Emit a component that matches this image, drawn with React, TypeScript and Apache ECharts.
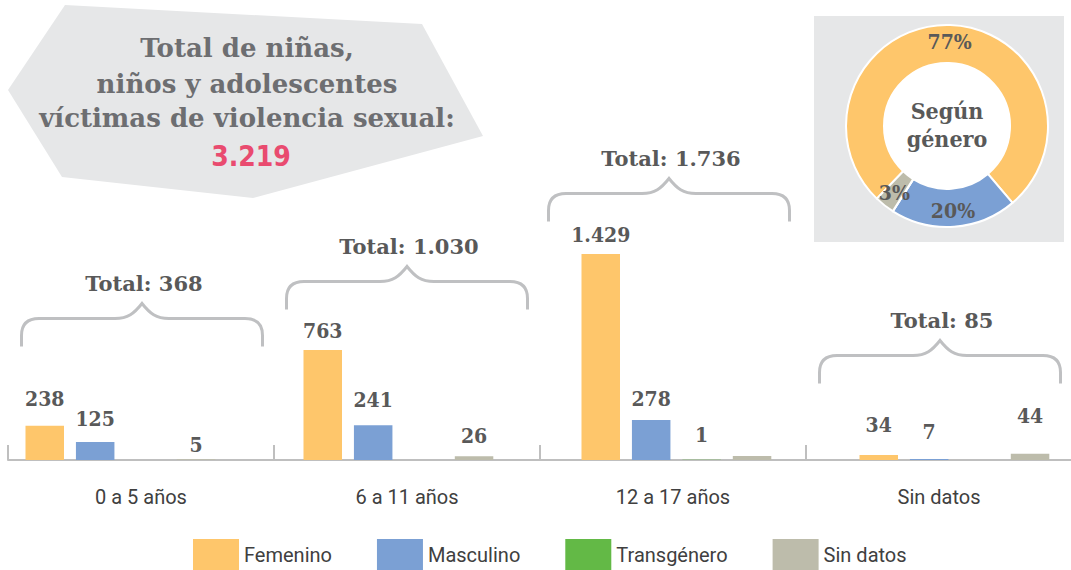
import React, { useEffect, useRef } from "react";
import * as echarts from "echarts";

// ---- data ----
const CATEGORIES = ["0 a 5 años", "6 a 11 años", "12 a 17 años", "Sin datos"];
const SERIES_NAMES = ["Femenino", "Masculino", "Transgénero", "Sin datos"];
const FEMENINO = [238, 763, 1429, 34];
const MASCULINO = [125, 241, 278, 7];
const TRANSGENERO = [0, 0, 1, 0];
const SIN_DATOS = [5, 26, 28, 44];

// ---- styling / layout (not data) ----
const COLORS = ["#fec66b", "#7ba0d4", "#63b946", "#bdbcab"];
// gap in px between a label and its bar top; null = label hidden
const LABEL_GAPS: (number | null)[][] = [
  [20, 12, 12, 23],
  [16, 18, 14, 20],
  [null, null, 18, null],
  [7, 13, null, 31],
];
const BRACE_CX = [142, 407, 669, 940];
const BRACE_TIP_Y = [302, 265, 177, 339];

const SLAB_C = '"DejaVu Serif Condensed", "DejaVu Serif", serif';
const SLAB = '"DejaVu Serif", serif';
const NARROW = 'Roboto, "DejaVu Sans Condensed", sans-serif';
const LABEL_GRAY = "#595959";

const fmt = (n: number) => String(n).replace(/\B(?=(\d{3})+(?!\d))/g, ".");

const BRACE_D =
  "M1.5 45 L1.5 34 Q1.5 17 19 17 L95 17 C108 17 114 12 122 2 C130 12 136 17 149 17 L225 17 Q242.5 17 242.5 34 L242.5 45";

echarts.graphic.registerShape("brace", echarts.graphic.extendPath(BRACE_D, {}));

export default function App() {
  const ref = useRef<HTMLDivElement>(null);

  useEffect(() => {
    if (!ref.current) return;
    const chart = echarts.init(ref.current, undefined, { renderer: "svg" });

    const seriesValues = [FEMENINO, MASCULINO, TRANSGENERO, SIN_DATOS];
    const catTotals = CATEGORIES.map((_, i) =>
      seriesValues.reduce((s, arr) => s + arr[i], 0)
    );
    const seriesTotals = seriesValues.map((arr) => arr.reduce((s, v) => s + v, 0));
    const grand = seriesTotals.reduce((s, v) => s + v, 0);

    const barSeries = seriesValues.map((arr, si) => ({
      type: "bar",
      name: SERIES_NAMES[si],
      xAxisIndex: 0,
      yAxisIndex: 0,
      barWidth: 38.5,
      barGap: "31%",
      itemStyle: { color: COLORS[si] },
      data: arr.map((v, ci) => {
        const gap = LABEL_GAPS[si][ci];
        return {
          value: v,
          label: {
            show: gap !== null && v > 0,
            distance: gap === null ? 0 : gap - 3,
          },
        };
      }),
      label: {
        position: "top",
        formatter: (p: any) => fmt(p.value),
        fontFamily: SLAB_C,
        fontWeight: "bold",
        fontSize: 21,
        color: LABEL_GRAY,
      },
      emphasis: { disabled: true },
    }));

    const graphic: any[] = [
      {
        type: "polygon",
        shape: { points: [[65, 5], [422, 24], [483, 136], [253, 198], [62, 177], [8, 90]] },
        style: { fill: "#e6e7e8" },
        z: -10,
      },
      {
        type: "rect",
        shape: { x: 814, y: 16, width: 250, height: 226 },
        style: { fill: "#e6e7e8" },
        z: -10,
      },
      {
        type: "circle",
        shape: { cx: 947, cy: 126, r: 64 },
        style: { fill: "#ffffff" },
        z: -9,
      },
    ];

    const titleLines = [
      { text: "Total de niñas,", y: 48 },
      { text: "niños y adolescentes", y: 84 },
      { text: "víctimas de violencia sexual:", y: 118 },
    ];
    titleLines.forEach((l) =>
      graphic.push({
        type: "text",
        z: 10,
        style: {
          text: l.text,
          x: 247,
          y: l.y,
          textAlign: "center",
          textVerticalAlign: "middle",
          align: "center",
          verticalAlign: "middle",
          fill: "#6d6e71",
          font: `bold 26px ${SLAB}`,
        },
      })
    );
    graphic.push({
      type: "text",
      z: 10,
      style: {
        text: fmt(grand),
        x: 251,
        y: 156,
        textAlign: "center",
        textVerticalAlign: "middle",
        align: "center",
        verticalAlign: "middle",
        fill: "#e94b6f",
        font: `bold 28px "DejaVu Sans Condensed", Roboto, sans-serif`,
      },
    });
    graphic.push({
      type: "text",
      z: 10,
      style: {
        text: "Según\ngénero",
        x: 947,
        y: 124,
        textAlign: "center",
        textVerticalAlign: "middle",
        align: "center",
        verticalAlign: "middle",
        fill: LABEL_GRAY,
        font: `bold 23px ${SLAB_C}`,
        lineHeight: 28,
      },
    });

    CATEGORIES.forEach((_, i) => {
      graphic.push({
        type: "brace",
        x: BRACE_CX[i] - 122,
        y: BRACE_TIP_Y[i] - 0.5,
        style: { fill: "none", stroke: "#bfc0c2", lineWidth: 3 },
        z: 5,
      });
      graphic.push({
        type: "text",
        z: 10,
        style: {
          text: "Total: " + fmt(catTotals[i]),
          x: BRACE_CX[i] + 2,
          y: BRACE_TIP_Y[i] - 19,
          textAlign: "center",
          textVerticalAlign: "middle",
          align: "center",
          verticalAlign: "middle",
          fill: LABEL_GRAY,
          font: `bold 21px ${SLAB}`,
        },
      });
    });

    chart.setOption({
      animation: false,
      backgroundColor: "#ffffff",
      grid: [
        { left: -18.6, width: 1112, top: 171.7, bottom: 110, outerBoundsMode: "none", containLabel: false },
        { left: 8, width: 1064, top: 171.7, bottom: 110, outerBoundsMode: "none", containLabel: false },
      ],
      xAxis: [
        {
          type: "category",
          gridIndex: 0,
          data: CATEGORIES,
          show: false,
        },
        {
          type: "category",
          gridIndex: 1,
          data: CATEGORIES,
          axisLine: { show: true, lineStyle: { color: "#bfbfbf", width: 2 } },
          axisTick: { show: true, inside: true, length: 15, lineStyle: { color: "#bfbfbf", width: 2 } },
          axisLabel: {
            margin: 27,
            fontFamily: NARROW,
            fontSize: 20,
            color: "#404040",
          },
        },
      ],
      yAxis: [
        { type: "value", gridIndex: 0, min: 0, max: 2000, show: false, splitLine: { show: false } },
        { type: "value", gridIndex: 1, min: 0, max: 2000, show: false, splitLine: { show: false } },
      ],
      legend: {
        data: SERIES_NAMES,
        left: 193,
        top: 539,
        padding: 0,
        icon: "rect",
        itemWidth: 46,
        itemHeight: 31,
        itemGap: 45,
        selectedMode: false,
        textStyle: { fontFamily: NARROW, fontSize: 20, color: "#404040" },
      },
      graphic,
      series: [
        ...barSeries,
        {
          type: "pie",
          center: [947, 126],
          radius: [63, 101],
          startAngle: 226,
          clockwise: true,
          itemStyle: { borderColor: "#ffffff", borderWidth: 2 },
          label: {
            show: true,
            position: "inside",
            formatter: (p: any) => (p.percent < 1 ? "" : Math.round(p.percent) + "%"),
            fontFamily: SLAB_C,
            fontWeight: "bold",
            fontSize: 21,
            color: LABEL_GRAY,
          },
          labelLine: { show: false },
          emphasis: { disabled: true },
          data: SERIES_NAMES.map((n, i) => ({
            name: n,
            value: seriesTotals[i],
            itemStyle: { color: COLORS[i] },
          })),
        },
      ],
    } as any);

    return () => chart.dispose();
  }, []);

  return (
    <div
      ref={ref}
      style={{ position: "fixed", left: 0, top: 0, width: 1071, height: 570 }}
    />
  );
}
